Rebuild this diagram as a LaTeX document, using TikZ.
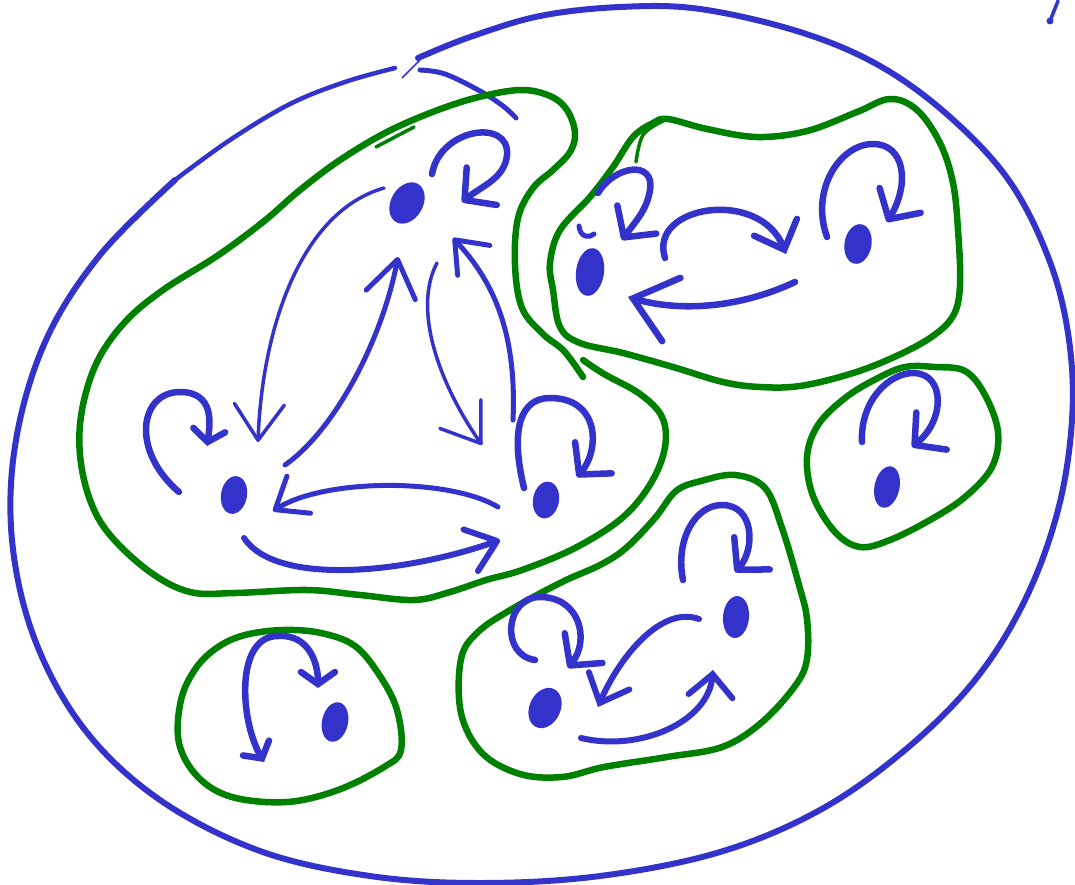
\documentclass[tikz,border=0pt]{standalone}
\usetikzlibrary{arrows.meta,shapes.geometric,calc}
\definecolor{pblue}{RGB}{51,51,204}
\definecolor{pgreen}{RGB}{0,128,0}
\tikzset{
  ell/.style={pblue, line width=6pt, line cap=round, line join=round},
  grn/.style={pgreen, line width=6.5pt, line cap=round, line join=round},
  grnthin/.style={pgreen, line width=3.5pt, line cap=round, line join=round},
  dot/.style={ellipse, fill=pblue, draw=none, inner sep=0pt},
  lp/.style={pblue, line width=6.5pt, line cap=round, line join=round,
    -{Straight Barb[length=22pt,width=48pt,line cap=round,line join=round]}},
  ar/.style={pblue, line width=5pt, line cap=round, line join=round},
  arthin/.style={pblue, line width=3.5pt, line cap=round, line join=round},
  tipbig/.style={-{Straight Barb[length=36pt,width=50pt,line cap=round,line join=round]}},
  tipmid/.style={-{Straight Barb[length=28pt,width=44pt,line cap=round,line join=round]}}
}
\begin{document}
\begin{tikzpicture}[x=1pt,y=-1pt]
\useasboundingbox (0,0) rectangle (1075,885);
\fill[white] (0,0) rectangle (1075,885);

% ---- big outer ellipse ----
\draw[ell] plot[smooth, tension=0.6] coordinates {
 (418,58) (470,37) (540,16) (620,7) (700,9) (800,32) (880,66) (950,117)
 (1010,182) (1050,262) (1069,340) (1072,420) (1058,510) (1025,600)
 (975,680) (905,750) (820,810) (720,852) (600,876) (480,883) (370,876)
 (260,851) (160,800) (85,730) (35,640) (12,540) (16,440) (46,340)
 (100,255) (175,180)};
\draw[pblue, line width=4.5pt, line cap=round] plot[smooth, tension=0.6] coordinates {
 (175,180) (230,140) (290,104) (345,82) (395,68)};
\draw[pblue, line width=1.5pt] (402,78) -- (420,60);
\draw[pblue, line width=5pt, line cap=round] plot[smooth, tension=0.6] coordinates {
 (420,70) (445,74) (480,91) (503,106) (516,118)};
\draw[pblue, line width=3.5pt, line cap=round] (1058,1) -- (1050,21);
\fill[pblue] (1050,21) circle (3.5);

% ---- green components ----
\draw[grn] plot[smooth, tension=0.6] coordinates {
 (583,377) (564,351) (543,334) (522,308) (515,265) (518,218) (533,188)
 (553,170) (570,152) (575,133) (567,110) (550,96) (520,90) (475,98)
 (430,113) (385,133) (340,160) (300,190) (263,222) (217,256) (163,290)
 (125,322) (97,362) (82,410) (80,455) (90,500) (110,535) (150,572)
 (190,592) (235,593) (307,590) (360,595) (414,600) (450,592) (486,580)
 (522,570) (575,548) (622,518) (651,483) (665,447) (662,417) (640,394)
 (604,374) (583,360)};
\draw[grnthin] (376,147) -- (414,127);

\draw[grn] plot[smooth cycle, tension=0.6] coordinates {
 (668,119) (707,129) (757,137) (807,131) (857,112) (890,99) (917,110)
 (940,143) (953,183) (958,230) (960,285) (953,316) (930,338) (892,358)
 (850,374) (800,386) (760,387) (723,382) (673,367) (623,353) (580,343) (560,327)
 (553,290) (550,263) (560,230) (590,197) (613,167) (633,137) (653,123)};
\draw[grnthin] plot[smooth, tension=0.6] coordinates {(663,121) (643,135) (636,162)};

\draw[grn] plot[smooth cycle, tension=0.6] coordinates {
 (905,367) (935,367) (965,371) (985,395) (998,432) (992,467) (965,497)
 (930,520) (890,540) (860,547) (835,532) (813,496) (807,457) (818,425)
 (845,398) (876,379)};

\draw[grn] plot[smooth cycle, tension=0.6] coordinates {
 (735,475) (765,488) (782,528) (799,585) (807,619) (807,659) (795,686)
 (761,723) (722,747) (667,757) (604,767) (562,777) (520,774) (482,753)
 (461,713) (461,659) (478,632) (512,609) (562,582) (600,565) (626,548)
 (655,518) (676,491) (701,481)};

\draw[grn] plot[smooth cycle, tension=0.6] coordinates {
 (245,635) (283,630) (321,633) (355,646) (380,676) (397,710)
 (401,750) (384,767) (338,790) (287,802) (232,797) (198,777) (179,743)
 (181,700) (196,668) (218,647)};

% ---- vertices ----
\node[dot, minimum width=32pt, minimum height=44pt, rotate=-30] (A) at (407,203) {};
\node[dot, minimum width=26pt, minimum height=38pt, rotate=-10] (B) at (234,495) {};
\node[dot, minimum width=26pt, minimum height=37pt, rotate=-10] (C) at (546,500) {};
\node[dot, minimum width=28pt, minimum height=48pt, rotate=-8] (D) at (590,272) {};
\node[dot, minimum width=27pt, minimum height=40pt, rotate=-10] (E) at (858,244) {};
\node[dot, minimum width=25pt, minimum height=42pt, rotate=-12] (F) at (887,487) {};
\node[dot, minimum width=26pt, minimum height=42pt, rotate=-5] (G) at (736,617) {};
\node[dot, minimum width=31pt, minimum height=42pt, rotate=-25] (H) at (545,708) {};
\node[dot, minimum width=26pt, minimum height=40pt, rotate=-12] (I) at (335,722) {};

% ---- self loops ----
\draw[lp] ($(A)+(25,-29)$) .. controls ($(A)+(33,-75)$) and ($(A)+(103,-85)$) .. ($(A)+(100,-48)$)
  .. controls ($(A)+(98,-25)$) and ($(A)+(75,-17)$) .. ($(A)+(55,-1)$);
\draw[pblue, line width=6.5pt, line cap=round, -{Straight Barb[length=12pt,width=32pt,line cap=round]}]
  ($(B)+(-55,-3)$) .. controls ($(B)+(-104,-45)$) and ($(B)+(-94,-103)$) .. ($(B)+(-54,-103)$)
  .. controls ($(B)+(-19,-103)$) and ($(B)+(-24,-70)$) .. ($(B)+(-27,-49)$);
\draw[lp] ($(C)+(-22,-12)$) .. controls ($(C)+(-36,-70)$) and ($(C)+(-26,-102)$) .. ($(C)+(4,-102)$)
  .. controls ($(C)+(54,-102)$) and ($(C)+(54,-50)$) .. ($(C)+(31,-23)$);
\draw[lp] ($(D)+(8,-79)$) .. controls ($(D)+(25,-107)$) and ($(D)+(65,-112)$) .. ($(D)+(60,-82)$)
  .. controls ($(D)+(57,-62)$) and ($(D)+(45,-50)$) .. ($(D)+(32,-32)$);
\draw[pblue, line width=5pt, line cap=round] ($(D)+(-11,-46)$) .. controls ($(D)+(-10,-34)$) and ($(D)+(0,-34)$) .. ($(D)+(4,-38)$);
\draw[lp] ($(E)+(-31,-7)$) .. controls ($(E)+(-48,-54)$) and ($(E)+(-18,-100)$) .. ($(E)+(15,-100)$)
  .. controls ($(E)+(47,-100)$) and ($(E)+(52,-60)$) .. ($(E)+(29,-22)$);
\draw[lp] ($(F)+(-25,-45)$) .. controls ($(F)+(-27,-87)$) and ($(F)+(3,-115)$) .. ($(F)+(28,-114)$)
  .. controls ($(F)+(58,-112)$) and ($(F)+(58,-67)$) .. ($(F)+(25,-40)$);
\draw[lp] ($(G)+(-53,-37)$) .. controls ($(G)+(-61,-77)$) and ($(G)+(-41,-112)$) .. ($(G)+(-14,-112)$)
  .. controls ($(G)+(19,-112)$) and ($(G)+(19,-67)$) .. ($(G)+(-1,-45)$);
\draw[lp] ($(H)+(-10,-48)$) .. controls ($(H)+(-45,-53)$) and ($(H)+(-40,-111)$) .. ($(H)+(-5,-111)$)
  .. controls ($(H)+(35,-111)$) and ($(H)+(45,-68)$) .. ($(H)+(23,-40)$);
\draw[pblue, line width=6.5pt, line cap=round, line join=round,
  {Straight Barb[length=12pt,width=30pt,line cap=round]}-{Straight Barb[length=12pt,width=34pt,line cap=round]}]
  ($(I)+(-71,40)$) .. controls ($(I)+(-95,-2)$) and ($(I)+(-100,-86)$) .. ($(I)+(-57,-86)$)
  .. controls ($(I)+(-25,-88)$) and ($(I)+(-17,-57)$) .. ($(I)+(-17,-34)$);

% ---- arrows between vertices ----
\coordinate (ab1) at (384,188); \coordinate (ab2) at (258,442);
\coordinate (ba1) at (285,465); \coordinate (ba2) at (398,257);
\coordinate (ac1) at (437,263); \coordinate (ac2) at (482,445);
\coordinate (ca1) at (513,420); \coordinate (ca2) at (453,238);
\coordinate (cb1) at (498,507); \coordinate (cb2) at (273,511);
\coordinate (bc1) at (244,538); \coordinate (bc2) at (500,540);
\coordinate (de1) at (665,258); \coordinate (de2) at (786,254);
\coordinate (ed1) at (795,282); \coordinate (ed2) at (628,297);
\coordinate (gh1) at (699,619); \coordinate (gh2) at (598,707);
\coordinate (hg1) at (581,738); \coordinate (hg2) at (713,670);

\draw[arthin, tipbig] (ab1) .. controls (300,212) and (262,330) .. (ab2);
\draw[ar, tipbig] (ba1) .. controls (335,430) and (382,340) .. (ba2);
\draw[arthin, tipbig] (ac1) .. controls (412,310) and (440,385) .. (ac2);
\draw[ar, tipmid] (ca1) .. controls (517,330) and (492,280) .. (ca2);
\draw[ar, tipmid] (cb1) .. controls (450,478) and (325,478) .. (cb2);
\draw[ar, line width=6pt, tipmid] (bc1) .. controls (275,585) and (400,575) .. (bc2);
\draw[ar, line width=6.5pt, -{Straight Barb[length=24pt,width=46pt,line cap=round]}] (de1) .. controls (648,205) and (760,188) .. (de2);
\draw[ar, line width=6.5pt, -{Straight Barb[length=40pt,width=66pt,line cap=round]}] (ed1) .. controls (740,308) and (680,312) .. (ed2);
\draw[ar, line width=6pt, -{Straight Barb[length=24pt,width=44pt,line cap=round]}] (gh1) .. controls (660,605) and (618,660) .. (gh2);
\draw[ar, line width=6pt, -{Straight Barb[length=22pt,width=44pt,line cap=round]}] (hg1) .. controls (640,752) and (708,722) .. (hg2);
\end{tikzpicture}
\end{document}
